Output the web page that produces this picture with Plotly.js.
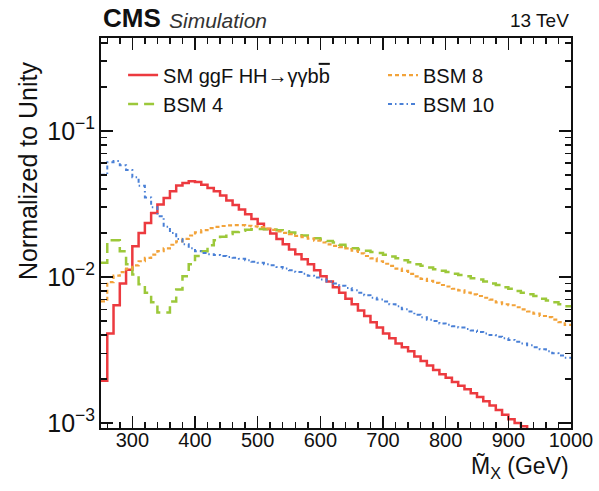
<!DOCTYPE html>
<html>
<head>
<meta charset="utf-8">
<script src="https://cdn.plot.ly/plotly-3.0.1.min.js"></script>
<style>
  html, body { margin: 0; padding: 0; background: #fff; }
  #chart { width: 599px; height: 491px; }
</style>
</head>
<body>
<div id="chart"></div>
<script>
// Bin edges (GeV), 10 GeV bins from 250 to 1000
const binEdges = [250,260,270,280,290,300,310,320,330,340,350,360,370,380,390,400,410,420,430,440,
  450,460,470,480,490,500,510,520,530,540,550,560,570,580,590,600,610,620,630,640,
  650,660,670,680,690,700,710,720,730,740,750,760,770,780,790,800,810,820,830,840,
  850,860,870,880,890,900,910,920,930,940,950,960,970,980,990,1000];

// SM ggF HH -> gamma gamma b bbar
const smValues = [0.00195,0.0041,0.0064,0.0090,0.0112,0.0162,0.0200,0.0234,0.0274,0.0313,
  0.0347,0.0386,0.0422,0.0440,0.0451,0.0447,0.0428,0.0406,0.0386,0.0360,
  0.0334,0.0311,0.0289,0.0268,0.0249,0.0231,0.0213,0.0198,0.0182,0.0167,
  0.0154,0.0143,0.0132,0.0122,0.0111,0.0101,0.0093,0.0085,0.0078,0.0071,
  0.0065,0.0059,0.0054,0.0049,0.0045,0.0041,0.0038,0.0035,0.0033,0.0031,
  0.00285,0.00266,0.00248,0.00231,0.00216,0.00204,0.00191,0.00180,0.00170,0.00160,
  0.00151,0.00141,0.00132,0.00123,0.00114,0.00106,0.00100,0.00095,0.00089,0.00083,
  0.00079,0.00074,0.00069,0.00065,0.00060];

// BSM 4
const bsm4Values = [0.0125,0.0178,0.0178,0.0150,0.0122,0.0104,0.0089,0.0078,0.0067,0.0057,
  0.0057,0.0068,0.0082,0.0101,0.0122,0.0139,0.0150,0.0165,0.0178,0.0188,
  0.0197,0.0203,0.0207,0.0210,0.0212,0.0213,0.0212,0.0211,0.0209,0.0205,
  0.0201,0.0197,0.0192,0.0188,0.0184,0.0180,0.0176,0.0172,0.0166,0.0161,
  0.0157,0.0154,0.0151,0.0148,0.0146,0.0142,0.0138,0.0134,0.0130,0.0126,
  0.0122,0.0119,0.0116,0.0113,0.0110,0.0108,0.0105,0.0103,0.0101,0.0098,
  0.0096,0.0093,0.0090,0.0088,0.0085,0.0083,0.0080,0.0078,0.0076,0.0074,
  0.0071,0.0069,0.0067,0.0065,0.0063];

// BSM 8
const bsm8Values = [0.0068,0.0092,0.0102,0.0108,0.0114,0.0120,0.0128,0.0135,0.0142,0.0150,
  0.0157,0.0166,0.0175,0.0182,0.0192,0.0202,0.0209,0.0216,0.0220,0.0223,
  0.0225,0.0226,0.0226,0.0224,0.0222,0.0219,0.0214,0.0210,0.0205,0.0200,
  0.0196,0.0191,0.0187,0.0183,0.0177,0.0172,0.0167,0.0163,0.0160,0.0157,
  0.0151,0.0145,0.0139,0.0134,0.0128,0.0123,0.0119,0.0114,0.0110,0.0105,
  0.0101,0.0097,0.0094,0.0091,0.0088,0.0086,0.0083,0.0081,0.0078,0.0076,
  0.0074,0.0072,0.0070,0.0067,0.0065,0.0064,0.0062,0.0060,0.0058,0.0056,
  0.0054,0.0053,0.0051,0.0049,0.0047];

// BSM 10
const bsm10Values = [0.050,0.061,0.062,0.058,0.054,0.048,0.042,0.035,0.030,0.026,
  0.022,0.020,0.0182,0.0167,0.0157,0.0150,0.0146,0.0143,0.0141,0.0139,
  0.0137,0.0135,0.0133,0.0130,0.0127,0.0125,0.0122,0.0120,0.0117,0.0114,
  0.0111,0.0108,0.0105,0.0102,0.0099,0.0096,0.0093,0.0090,0.0087,0.0084,
  0.0081,0.0078,0.0075,0.0072,0.0070,0.0068,0.0065,0.0063,0.0060,0.0058,
  0.0055,0.0053,0.0051,0.0050,0.0048,0.0047,0.0046,0.0045,0.0044,0.0043,
  0.0042,0.0041,0.0040,0.0039,0.0038,0.0037,0.0036,0.0035,0.0034,0.0033,
  0.0032,0.0031,0.0030,0.0029,0.0028];

const xTickVals = [300,400,500,600,700,800,900,1000];
const xTickText = ['300','400','500','600','700','800','900','1000'];

function stepTrace(values, name, color, dash, width, legend, group) {
  // x: low edges plus final upper edge, 'hv' step drawing
  const x = binEdges.slice();
  const y = values.slice();
  y.push(values[values.length - 1]);
  return {
    type: 'scatter', mode: 'lines', x: x, y: y, name: name,
    line: {shape: 'hv', color: color, width: width, dash: dash},
    legend: legend, legendgroup: group, hoverinfo: 'skip'
  };
}

const FONT = 'Liberation Sans, Arial, Helvetica, sans-serif';

const traces = [
  stepTrace(smValues, 'SM ggF HH\u2192\u03b3\u03b3b<span style="text-decoration:overline">b</span>', '#ec3a3f', 'solid', 2.5, 'legend', 'g1'),
  stepTrace(bsm4Values, 'BSM 4', '#9cc83a', '10px,6px', 2.5, 'legend', 'g2'),
  stepTrace(bsm8Values, 'BSM 8', '#f2a33a', '4px,3px', 2.2, 'legend2', 'g3'),
  stepTrace(bsm10Values, 'BSM 10', '#4a80d6', '4px,3px,1.5px,3px', 2.0, 'legend2', 'g4')
];

const layout = {
  width: 599, height: 491,
  margin: {l: 101, r: 28, t: 38, b: 63},
  paper_bgcolor: '#fff', plot_bgcolor: '#fff',
  font: {family: FONT, color: '#111', size: 20},
  showlegend: true,
  xaxis: {
    type: 'linear', range: [250, 1000],
    tickvals: xTickVals, ticktext: xTickText,
    ticks: 'inside', ticklen: 12, tickwidth: 1.5, tickcolor: '#111',
    ticklabelstandoff: -7,
    minor: {ticks: 'inside', ticklen: 6, tickwidth: 1.5, tickcolor: '#111', dtick: 20, tick0: 300, showgrid: false},
    showline: true, linecolor: '#111', linewidth: 2, mirror: 'allticks',
    showgrid: false, zeroline: false,
    tickfont: {size: 20, family: FONT, color: '#111'}
  },
  yaxis: {
    type: 'log', range: [-3.034, -0.365],
    dtick: 1, exponentformat: 'power', showexponent: 'all',
    ticks: 'inside', ticklen: 12, tickwidth: 1.5, tickcolor: '#111',
    minor: {ticks: 'inside', ticklen: 6, tickwidth: 1.5, tickcolor: '#111', dtick: 'D1', showgrid: false},
    showline: true, linecolor: '#111', linewidth: 2, mirror: 'allticks',
    showgrid: false, zeroline: false,
    tickfont: {size: 20, family: FONT, color: '#111'}
  },
  legend: {
    x: 0.047, y: 0.955, xanchor: 'left', yanchor: 'top',
    bgcolor: 'rgba(0,0,0,0)', borderwidth: 0,
    font: {size: 20, family: FONT, color: '#111'},
    tracegroupgap: 0, traceorder: 'normal'
  },
  legend2: {
    x: 0.6, y: 0.955, xanchor: 'left', yanchor: 'top',
    bgcolor: 'rgba(0,0,0,0)', borderwidth: 0,
    font: {size: 20, family: FONT, color: '#111'},
    tracegroupgap: 0, traceorder: 'normal'
  },
  annotations: [
    {text: '<b>CMS</b>', xref: 'paper', yref: 'paper', x: 0, y: 1.008, xanchor: 'left', yanchor: 'bottom',
     showarrow: false, font: {size: 26, family: FONT, color: '#111'}},
    {text: '<i>Simulation</i>', xref: 'paper', yref: 'paper', x: 0.141, y: 1.01, xanchor: 'left', yanchor: 'bottom',
     showarrow: false, font: {size: 21, family: FONT, color: '#333'}},
    {text: '13 TeV', xref: 'paper', yref: 'paper', x: 1, y: 1.012, xanchor: 'right', yanchor: 'bottom',
     showarrow: false, font: {size: 19, family: FONT, color: '#111'}},
    {text: 'Normalized to Unity', xref: 'paper', yref: 'paper', x: -0.155, y: 0.945, xanchor: 'center', yanchor: 'top',
     textangle: -90, showarrow: false, font: {size: 25, family: FONT, color: '#111'}},
    {text: 'M\u0303<sub>X</sub> (GeV)', xref: 'paper', yref: 'paper', x: 1, y: -0.1, xanchor: 'right', yanchor: 'middle',
     showarrow: false, font: {size: 23, family: FONT, color: '#111'}}
  ]
};

Plotly.newPlot('chart', traces, layout, {displayModeBar: false, staticPlot: true});
</script>
</body>
</html>
